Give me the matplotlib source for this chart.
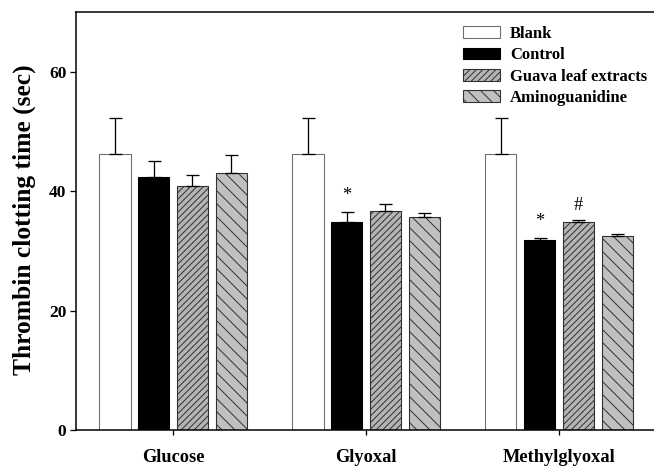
import numpy as np
import matplotlib
matplotlib.use("Agg")
import matplotlib.pyplot as plt

plt.rcParams['font.family'] = ['Liberation Serif', 'DejaVu Serif']
plt.rcParams['font.weight'] = 'bold'
plt.rcParams['hatch.linewidth'] = 0.9

groups = ["Glucose", "Glyoxal", "Methylglyoxal"]
series = ["Blank", "Control", "Guava leaf extracts", "Aminoguanidine"]

blank = [46.2, 46.2, 46.2]
blank_err = [6.0, 6.0, 6.0]
control = [42.3, 34.8, 31.8]
control_err = [2.7, 1.7, 0.3]
guava = [40.8, 36.6, 34.8]
guava_err = [1.9, 1.2, 0.4]
amino = [43.1, 35.6, 32.5]
amino_err = [2.9, 0.7, 0.4]

# (group index, series index, symbol)
marks = [(1, 1, "*"), (2, 1, "*"), (2, 2, "#")]

values = [blank, control, guava, amino]
errors = [blank_err, control_err, guava_err, amino_err]
faces = ["white", "black", "#b4b4b4", "#c0c0c0"]
edges = ["#6e6e6e", "black", "#303030", "#303030"]
hatches = [None, None, "////", "\\\\"]

dpi = 78
fig = plt.figure(figsize=(654 / dpi, 466 / dpi), dpi=dpi)
ax = fig.add_axes([76 / 654, 1 - 430 / 466, 578 / 654, 418 / 466])

x = np.arange(len(groups))
step = 0.201
width = 0.162
for i in range(4):
    pos = x + (i - 1.5) * step
    ax.bar(pos, values[i], width, color=faces[i], edgecolor=edges[i],
           hatch=hatches[i], linewidth=1.0, label=series[i], zorder=2)
    ax.errorbar(pos, values[i], yerr=[np.zeros(3), errors[i]], fmt="none",
                ecolor="black", elinewidth=1.2, capsize=6, capthick=1.2, zorder=3)

for g, s, sym in marks:
    top = values[s][g] + errors[s][g]
    off = 1.4 if sym == "*" else 1.0
    ax.text(x[g] + (s - 1.5) * step, top + off, sym, ha="center", va="bottom",
            fontsize=17, fontweight="normal", zorder=4)

ax.set_xlim(-0.503, 2.492)
ax.set_ylim(0, 70)
ax.set_yticks([0, 20, 40, 60])
ax.set_xticks(x)
ax.set_xticklabels(groups, fontsize=17)
ax.tick_params(axis="y", labelsize=16, length=6, width=1.2, pad=3)
ax.tick_params(axis="x", length=5, width=1.2, pad=12.5)
ax.spines["right"].set_visible(False)
for sp in ["left", "top", "bottom"]:
    ax.spines[sp].set_linewidth(1.4)

fig.text(24 / 654, 1 - 220 / 466, "Thrombin clotting time (sec)", rotation=90,
         ha="center", va="center", fontsize=23.5)

ax.legend(loc="upper left", bbox_to_anchor=((463 - 76) / 578, (430 - 26) / 418),
          frameon=False, fontsize=15.3, handlelength=2.23, handleheight=0.72,
          handletextpad=0.6, labelspacing=0.32, borderpad=0, borderaxespad=0)

fig.savefig("out.png", dpi=dpi)
